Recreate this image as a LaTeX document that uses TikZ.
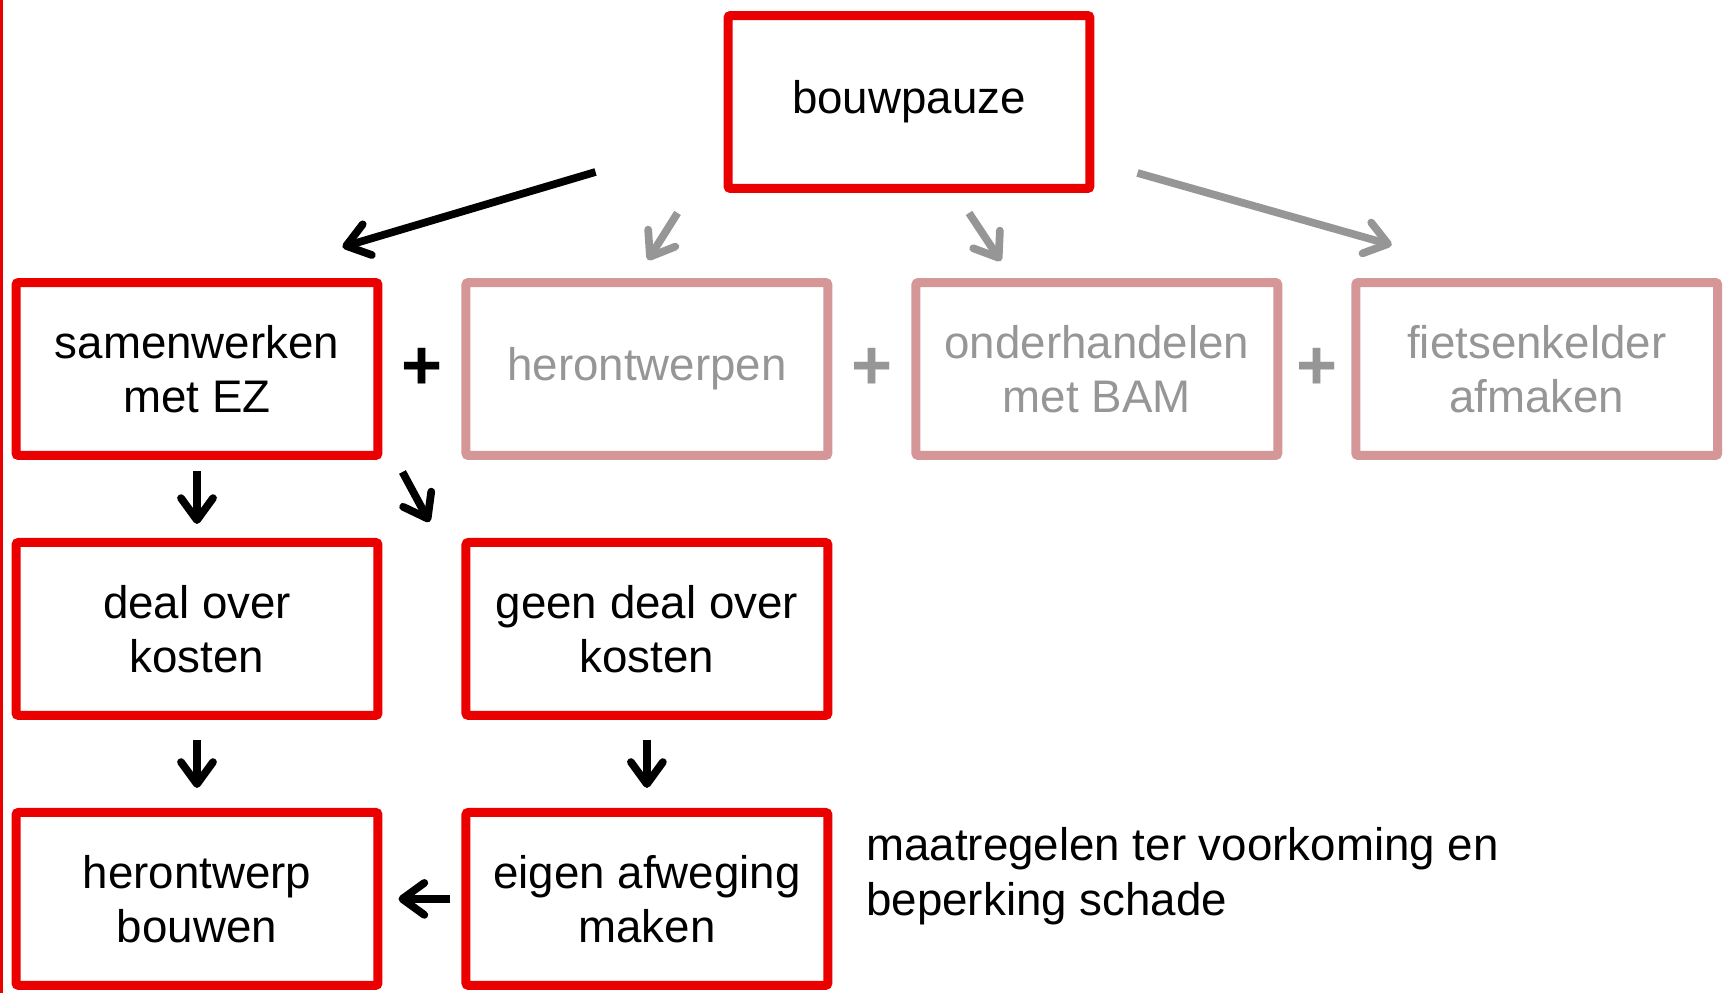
\documentclass[tikz,border=0pt]{standalone}
\usepackage{fontspec}
\setmainfont{Liberation Sans}
\usetikzlibrary{arrows.meta,calc}
\definecolor{boxred}{RGB}{235,0,0}
\definecolor{fadered}{RGB}{212,150,150}
\definecolor{fadegray}{RGB}{150,150,150}
\tikzset{
  box/.style={draw=boxred, line width=0.18cm, minimum width=7.24cm, minimum height=3.46cm,
    rounded corners=0.05cm, inner sep=0pt, align=center, font=\fontsize{26}{31}\selectfont},
  fadebox/.style={box, draw=fadered, text=fadegray},
  arr/.style={-{Straight Barb[length=0.44cm,width=0.64cm,round]}, line width=4.4pt},
  fadearr/.style={arr, draw=fadegray},
  plus/.style={font=\fontsize{40}{44}\bfseries\selectfont, inner sep=0pt}
}
\begin{document}
\begin{tikzpicture}[x=0.02cm, y=-0.02cm, node distance=9cm]
    \useasboundingbox (0,0) rectangle (1723,993);
    \draw[boxred, line width=2pt] (1,0) -- (1,993);
    \node[box] (bouw) at (909,102) {bouwpauze};
    \node[box] (sam) at (197,369) {samenwerken\\met EZ};
    \node[fadebox] (heront) [right of=sam] {herontwerpen};
    \node[fadebox] (onder) [right of=heront] {onderhandelen\\met BAM};
    \node[fadebox] (fiets) [right of=onder, node distance=8.8cm] {fietsenkelder\\afmaken};
    \node[box] (deal) [below of=sam, node distance=5.2cm] {deal over\\kosten};
    \node[box] (geen) [below of=heront, node distance=5.2cm] {geen deal over\\kosten};
    \node[box] (herb) [below of=deal, node distance=5.4cm] {herontwerp\\bouwen};
    \node[box] (eigen) [below of=geen, node distance=5.4cm] {eigen afweging\\maken};
    \node[anchor=west, align=left, inner sep=0pt, font=\fontsize{26}{31}\selectfont] (note) at (866,876)
      {maatregelen ter voorkoming en\\beperking schade};
    \node[plus] (p1) at ($(sam.east)!0.5!(heront.west)$) {+};
    \node[plus, text=fadegray] (p2) at ($(heront.east)!0.5!(onder.west)$) {+};
    \node[plus, text=fadegray] (p3) at ($(onder.east)!0.5!(fiets.west)$) {+};
    % from the top box
    \draw[arr] ([shift={(-128,-21)}]bouw.south west) -- ([shift={(-40,-31)}]sam.north east);
    \draw[fadearr] ([shift={(-46,20)}]bouw.south west) -- ([shift={(1,-18)}]heront.north);
    \draw[fadearr] ([shift={(60,20)}]bouw.south) -- ([shift={(-96,-17)}]onder.north);
    \draw[fadearr] ([shift={(43,-20)}]bouw.south east) -- ([shift={(-145,-33)}]fiets.north);
    % lower part
    \draw[arr, shorten <=0.22cm, shorten >=0.28cm] (sam) -- (deal);
    \draw[arr] ([shift={(20,12)}]sam.south east) -- ([shift={(-32,-16)}]geen.north west);
    \draw[arr, shorten <=0.4cm, shorten >=0.4cm] (deal) -- (herb);
    \draw[arr, shorten <=0.4cm, shorten >=0.4cm] (geen) -- (eigen);
    \draw[arr, shorten <=0.22cm, shorten >=0.32cm] (eigen) -- (herb);
\end{tikzpicture}
\end{document}
